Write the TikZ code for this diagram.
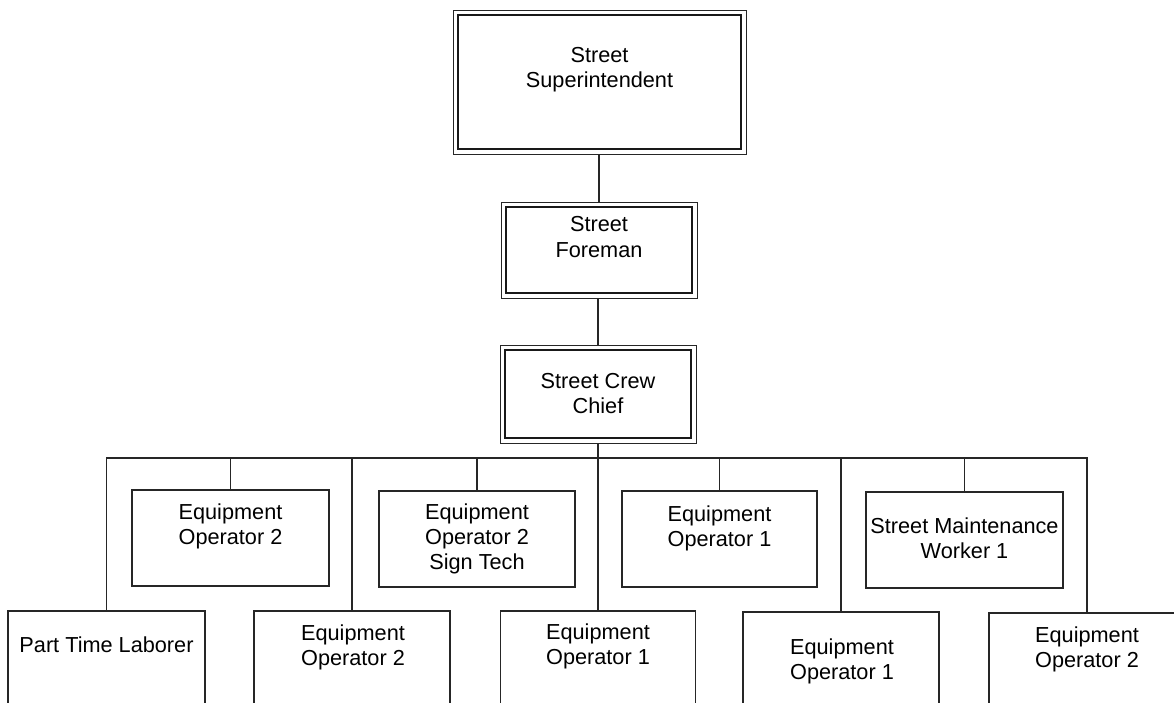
\documentclass[tikz,border=0pt]{standalone}
\usepackage{fontspec}
\setmainfont{Liberation Sans}
\begin{document}
\begin{tikzpicture}[x=1pt, y=-1pt,
  chiefbox/.style={draw=black!85, line width=0.9pt, rectangle, inner sep=0pt, outer sep=0pt},
  staffbox/.style={draw=black!85, line width=1.4pt, rectangle, inner sep=0pt, outer sep=0pt},
  lbl/.style={align=center, anchor=base, inner sep=0pt, text=black,
              font={\fontsize{21.7}{25}\selectfont}},
  wire/.style={draw=black!85, line width=1.1pt},
  innerline/.style={draw=black!90, line width=2pt}]
\useasboundingbox (0,0) rectangle (1174,703);
\clip (0,0) rectangle (1174,703);
\fill[white] (0,0) rectangle (1174,703);

% leadership chain (double framed boxes)
\node[chiefbox, minimum width=293pt, minimum height=144pt] (sup)  at (599.5,82) {};
\node[chiefbox, minimum width=196pt, minimum height=96pt]  (fore) at (599,250) {};
\node[chiefbox, minimum width=196pt, minimum height=98pt]  (crew) at (598,394) {};
\foreach \n in {sup,fore,crew}
  \draw[innerline] ([shift={(5pt,-5pt)}]\n.north west) rectangle ([shift={(-5pt,5pt)}]\n.south east);

% first row of crew positions
\node[staffbox, minimum width=197pt, minimum height=96pt] (t1) at (230.5,538) {};
\node[staffbox, minimum width=196pt, minimum height=96pt] (t2) at (477,539) {};
\node[staffbox, minimum width=195pt, minimum height=96pt] (t3) at (719.5,539) {};
\node[staffbox, minimum width=197pt, minimum height=96pt] (t4) at (964.5,540) {};

% second row of crew positions (running off the lower edge)
\node[staffbox, minimum width=197pt, minimum height=130pt] (b1) at (106.5,676) {};
\node[staffbox, minimum width=196pt, minimum height=130pt] (b2) at (352,676) {};
\node[staffbox, minimum width=195pt, minimum height=130pt] (b3) at (598,676) {};
\node[staffbox, minimum width=196pt, minimum height=130pt] (b4) at (841,677) {};
\node[staffbox, minimum width=196pt, minimum height=130pt] (b5) at (1087,678) {};

% titles (base anchor sits on the last line)
\node[lbl] (lsup)  at (599.5,88) {Street\\Superintendent};
\node[lbl] (lfore) at (599,257)  {Street\\Foreman};
\node[lbl] (lcrew) at (598,413)  {Street Crew\\Chief};
\node[lbl] (lt1) at (230.5,544) {Equipment\\Operator 2};
\node[lbl] (lt2) at (477,569)   {Equipment\\Operator 2\\Sign Tech};
\node[lbl] (lt3) at (719.5,546) {Equipment\\Operator 1};
\node[lbl] (lt4) at (964.5,558) {Street Maintenance\\Worker 1};
\node[lbl] (lb1) at (106.5,652) {Part Time Laborer};
\node[lbl] (lb2) at (353,665)   {Equipment\\Operator 2};
\node[lbl] (lb3) at (598,664)   {Equipment\\Operator 1};
\node[lbl] (lb4) at (842,679)   {Equipment\\Operator 1};
\node[lbl] (lb5) at (1087,667)  {Equipment\\Operator 2};

% reporting lines
\coordinate (busR) at (1087,458);
\draw[wire] (fore.north) -- (fore.north |- sup.south);
\draw[wire] (crew.north) -- (crew.north |- fore.south);
\draw[wire] (crew.south) -- (b3.north);
\draw[wire] (b1.north) |- (busR) -- (b5.north);
\foreach \n in {t1,t2,t3,t4,b2,b4}
  \draw[wire] (\n.north) -- (\n.north |- busR);
\end{tikzpicture}
\end{document}
